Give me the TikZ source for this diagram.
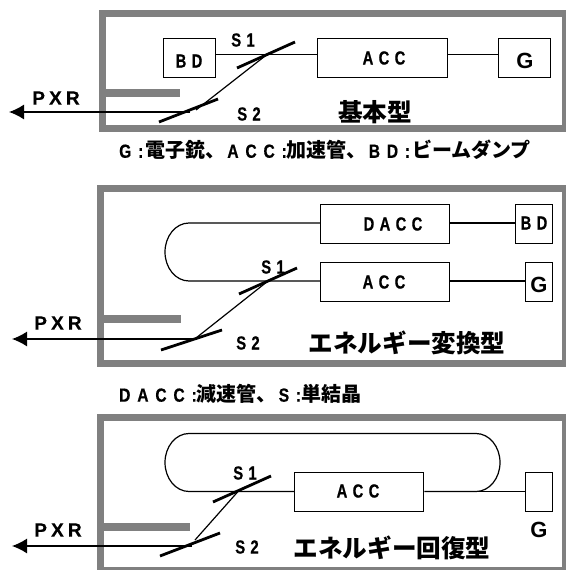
\documentclass[tikz,border=0pt]{standalone}
\usepackage{fontspec}
\setmainfont{Liberation Sans}
\newfontfamily\cjk{Noto Sans CJK JP}
\usetikzlibrary{arrows.meta}
\tikzset{
 x=1pt,y=-1pt,
 frame/.style={draw=black!50,line width=7pt},
 bar/.style={fill=black!50,draw=none},
 box/.style={draw=black,line width=1.3pt,fill=white,inner sep=0pt,anchor=north west},
 beam/.style={draw=black,line width=1.2pt},
 crystal/.style={draw=black,line width=2.8pt},
 xray/.style={draw=black,line width=1.3pt,-{Latex[length=15pt,width=15pt]}},
 lab/.style={font=\fontsize{19}{19}\selectfont\bfseries,inner sep=0pt},
 bigg/.style={font=\fontsize{22}{22}\selectfont\bfseries,inner sep=0pt},
 title/.style={font=\fontsize{24.6}{25}\selectfont\cjk\bfseries,inner sep=0pt},
 capt/.style={font=\fontsize{20}{20}\selectfont\cjk\bfseries,inner sep=0pt,anchor=west},
}
\newcommand{\spc}[1]{{\addfontfeature{FakeStretch=0.78,FakeBold=0.5,LetterSpace=28}#1}}
\newcommand{\spx}[1]{{\addfontfeature{FakeBold=0.3,LetterSpace=22}#1}}
\newcommand{\lat}[1]{{\fontsize{19}{19}\selectfont\rmfamily\bfseries\addfontfeature{FakeStretch=0.82,FakeBold=0.5,LetterSpace=36}#1}}
\begin{document}
\begin{tikzpicture}
\useasboundingbox (0,0) rectangle (565,570);
\fill[white] (0,0) rectangle (565,570);
% panel 1
\draw[frame] (102.5,13.5) rectangle (565,128.5);
\node[box,minimum width=52pt,minimum height=39pt] (bd1) at (163,38) {};
\node[lab] (bd1t) at (189,61) {\spc{BD}};
\node[box,minimum width=130pt,minimum height=39pt] (acc1) at (317,38) {};
\node[lab] (acc1t) at (384,58) {\spc{ACC}};
\node[box,minimum width=52pt,minimum height=39pt] (g1) at (498,38) {};
\node[bigg] (g1t) at (525,61) {G};
\coordinate (s1a) at (237,68); \coordinate (s1b) at (295,42);
\coordinate (s2a) at (159,122); \coordinate (s2b) at (218,99);
\coordinate (h1) at (267,54.5); \coordinate (h2) at (196,110);
\coordinate (tail1) at (190,112); \coordinate (tip1) at (9,112);
\draw[beam] (bd1.east |- h1) -- (acc1.west |- h1);
\draw[beam] (acc1.east |- h1) -- (g1.west |- h1);
\draw[beam] (h1) -- (h2);
\draw[crystal] (s1a) -- (s1b);
\draw[crystal] (s2a) -- (s2b);
\draw[xray] (tail1) -- (tip1);
\fill[bar] (105,89) rectangle (180,97);
\node[lab] (p1) at (56,98) {\spx{PXR}};
\node[lab] (l11) at (243,40) {\spc{S1}};
\node[lab] (l12) at (249,114) {\spc{S2}};
\node[title] (t1) at (375,112) {基本型};
\node[capt] (c1) at (119,150) {\lat{G:}\hspace{2pt}電子銃、\hspace{2pt}\lat{ACC:}加速管、\hspace{2pt}\lat{BD:}\hspace{2pt}ビームダンプ};
% panel 2
\draw[frame] (100.5,188.5) rectangle (565,363.5);
\node[box,minimum width=129pt,minimum height=39pt] (dacc2) at (320,204) {};
\node[lab] (dacc2t) at (393,224) {\spc{DACC}};
\node[box,minimum width=37pt,minimum height=39pt] (bd2) at (515,204) {};
\node[lab] (bd2t) at (534,223) {\spc{BD}};
\node[box,minimum width=129pt,minimum height=39pt] (acc2) at (320,262) {};
\node[lab] (acc2t) at (384,282) {\spc{ACC}};
\node[box,minimum width=27pt,minimum height=39pt] (g2) at (525,262) {};
\node[bigg] (g2t) at (539,285) {G};
\coordinate (h21) at (268,281); \coordinate (h22) at (196,338);
\coordinate (tail2) at (195,339); \coordinate (tip2) at (12,339);
\coordinate (y2) at (0,223);
\draw[beam] (acc2.west |- h21) -- (189,281) arc[start angle=90,end angle=270,x radius=24,y radius=29] -- (dacc2.west |- y2);
\draw[beam] (dacc2.east |- y2) -- (bd2.west |- y2);
\draw[beam] (acc2.east |- h21) -- (g2.west |- h21);
\draw[beam] (h21) -- (h22);
\draw[crystal] (239,294) -- (297,268);
\draw[crystal] (161,350) -- (222,330);
\draw[xray] (tail2) -- (tip2);
\fill[bar] (103,315) rectangle (181,323);
\node[lab] (p2) at (58,323) {\spx{PXR}};
\node[lab] (l21) at (273,267) {\spc{S1}};
\node[lab] (l22) at (248,343) {\spc{S2}};
\node[title] (t2) at (407,343) {エネルギー変換型};
\node[capt] (c2) at (119,394) {\lat{DACC:}減速管、\hspace{2pt}\lat{S:}単結晶};
% panel 3
\draw[frame] (100.5,417.5) rectangle (565,570.5);
\node[box,minimum width=129pt,minimum height=39pt] (acc3) at (294,472) {};
\node[lab] (acc3t) at (358,491) {\spc{ACC}};
\node[box,minimum width=27pt,minimum height=39pt] (g3) at (525,472) {};
\node[bigg] (gl3) at (539,530) {G};
\coordinate (h31) at (238,491.5); \coordinate (h32) at (195,540);
\coordinate (tail3) at (192,546); \coordinate (tip3) at (12,546);
\coordinate (y3) at (0,491.5);
\draw[beam] (acc3.west |- h31) -- (189,491.5) arc[start angle=90,end angle=270,x radius=24,y radius=29] -- (476,433.5) arc[start angle=-90,end angle=90,x radius=24,y radius=29] -- (acc3.east |- y3);
\draw[beam] (476,491.5) -- (g3.west |- y3);
\draw[beam] (h31) -- (h32);
\draw[crystal] (213,502) -- (271,476);
\draw[crystal] (160,556) -- (220,533);
\draw[xray] (tail3) -- (tip3);
\fill[bar] (103,523) rectangle (190,531);
\node[lab] (p3) at (58,530) {\spx{PXR}};
\node[lab] (l31) at (245,473) {\spc{S1}};
\node[lab] (l32) at (247,547) {\spc{S2}};
\node[title] (t3) at (392,548) {エネルギー回復型};
\end{tikzpicture}
\end{document}
